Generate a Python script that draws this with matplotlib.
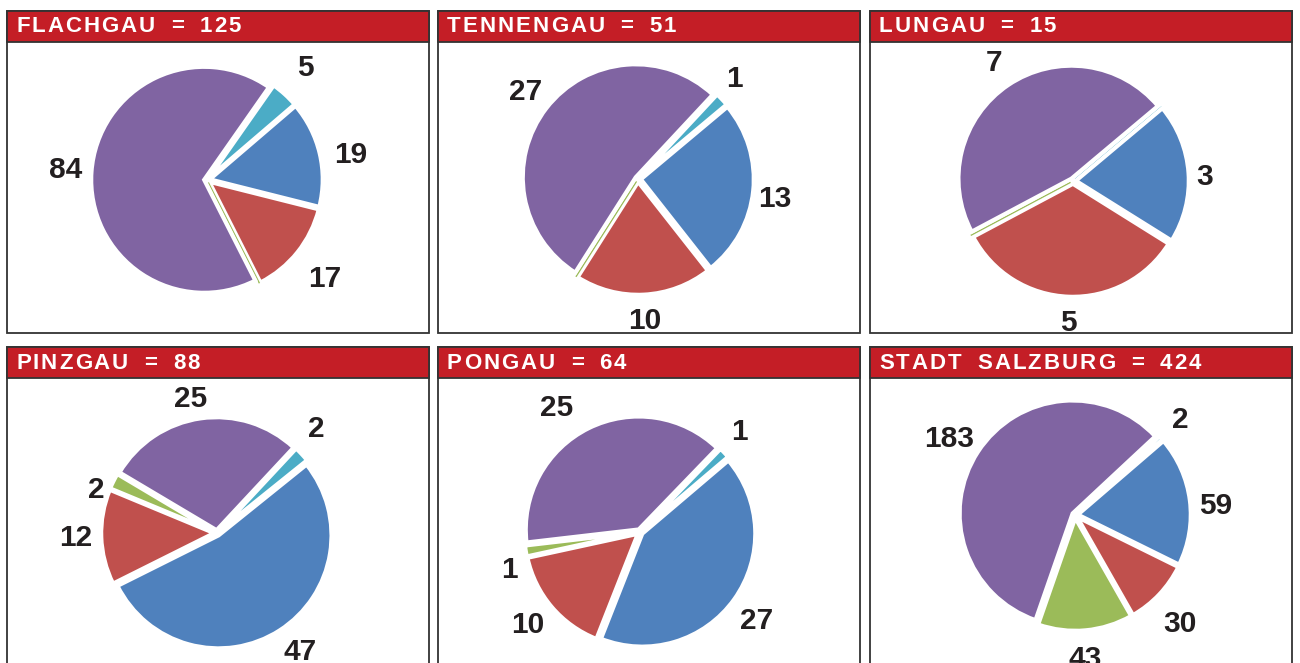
import matplotlib.pyplot as plt
from matplotlib.patches import Rectangle

# Daten je Bezirk (Reihenfolge der Segmente im Uhrzeigersinn)
regions = ['FLACHGAU', 'TENNENGAU', 'LUNGAU', 'PINZGAU', 'PONGAU', 'STADT SALZBURG']
totals = [125, 51, 15, 88, 64, 424]
cyan_vals = [5, 1, 0, 2, 1, 2]
blue_vals = [19, 13, 3, 47, 27, 59]
red_vals = [17, 10, 5, 12, 10, 30]
green_vals = [0, 0, 0, 2, 1, 43]
purple_vals = [84, 27, 7, 25, 25, 183]

colors = ['#4BACC6', '#4F81BD', '#C0504D', '#9BBB59', '#8064A2']

W, H = 1300, 663
fig = plt.figure(figsize=(13, 6.63), dpi=100)
renderer = fig.canvas.get_renderer()

# Layout in Pixel
panel_x = [7, 438, 870]
panel_w = 422
row_top = [11, 347]
row_bottom = [333, 700]
head_h = 31
centers = [(207, 180), (638, 179), (1073, 181), (217, 533), (640, 532), (1075, 515)]
start_angles = [55, 47, 40, 47, 46, 43]
R = 113
pad = 1.6

# kleine Verschiebungen der Beschriftungen (Pixel, x rechts / y unten)
# Schluessel: (Panel, Segment) mit Segment 0=cyan 1=blau 2=rot 3=gruen 4=lila
label_nudge = {
    (0, 0): (3, -7), (0, 1): (6, 7), (0, 2): (7, 11),
    (1, 0): (-6, -2), (1, 1): (-4, 5),
    (2, 1): (-10, 6),
    (3, 4): (-6, 6), (3, 0): (-5, -7), (3, 3): (6, 21), (3, 1): (7, 0),
    (4, 4): (-21, 3), (4, 0): (-4, -3), (4, 3): (9, 15), (4, 2): (-4, 1), (4, 1): (1, 7),
    (5, 4): (-7, 1), (5, 1): (0, 9), (5, 2): (2, 12), (5, 3): (-3, 3),
}

head_font = dict(color='white', fontsize=16, fontweight='bold', va='center',
                 ha='left', family='Liberation Sans')
tracking = 2.0
space_adv = 14


def fx(x):
    return x / W


def fy(y):
    return 1 - y / H


for i, name in enumerate(regions):
    r, c = divmod(i, 3)
    x0 = panel_x[c]
    top = row_top[r]
    bot = row_bottom[r]

    # Rahmen
    fig.patches.append(Rectangle((fx(x0), fy(bot)), panel_w / W, (bot - top) / H,
                                 transform=fig.transFigure, facecolor='white',
                                 edgecolor='#333333', lw=1.3, zorder=-2))
    # roter Kopf
    fig.patches.append(Rectangle((fx(x0), fy(top + head_h)), panel_w / W, head_h / H,
                                 transform=fig.transFigure, facecolor='#C41E26',
                                 edgecolor='#333333', lw=1.3, zorder=-1))
    # Titel mit Sperrung, Zeichen fuer Zeichen
    xpos = x0 + 9
    for ch in f'{name} = {totals[i]}':
        if ch == ' ':
            xpos += space_adv
            continue
        t = fig.text(fx(xpos), fy(top + head_h / 2 + 0.5), ch, **head_font)
        xpos += t.get_window_extent(renderer).width + tracking

    # Torte
    cx, cy = centers[i]
    half = R * pad
    ax = fig.add_axes([fx(cx - half), fy(cy + half), 2 * half / W, 2 * half / H])
    vals = [cyan_vals[i], blue_vals[i], red_vals[i], green_vals[i], purple_vals[i]]
    labels = [str(v) if v else '' for v in vals]
    wedges, texts = ax.pie(vals, colors=colors, labels=labels,
                           startangle=start_angles[i], counterclock=False,
                           explode=[0.025] * 5, labeldistance=1.23,
                           wedgeprops=dict(edgecolor='white', linewidth=3),
                           textprops=dict(fontsize=21.5, fontweight='bold', color='#231F20',
                                          family='Liberation Sans'))
    for k, t in enumerate(texts):
        t.set_ha('center')
        t.set_va('center')
        dx, dy = label_nudge.get((i, k), (0, 0))
        px, py = t.get_position()
        t.set_position((px + dx / R, py - dy / R))
    for w, v in zip(wedges, vals):
        if v == 0:
            w.set_edgecolor(w.get_facecolor())
            w.set_linewidth(1)
    ax.set_xlim(-pad, pad)
    ax.set_ylim(-pad, pad)
    ax.set_aspect('equal')
    ax.axis('off')

fig.savefig('out.png', dpi=100)
